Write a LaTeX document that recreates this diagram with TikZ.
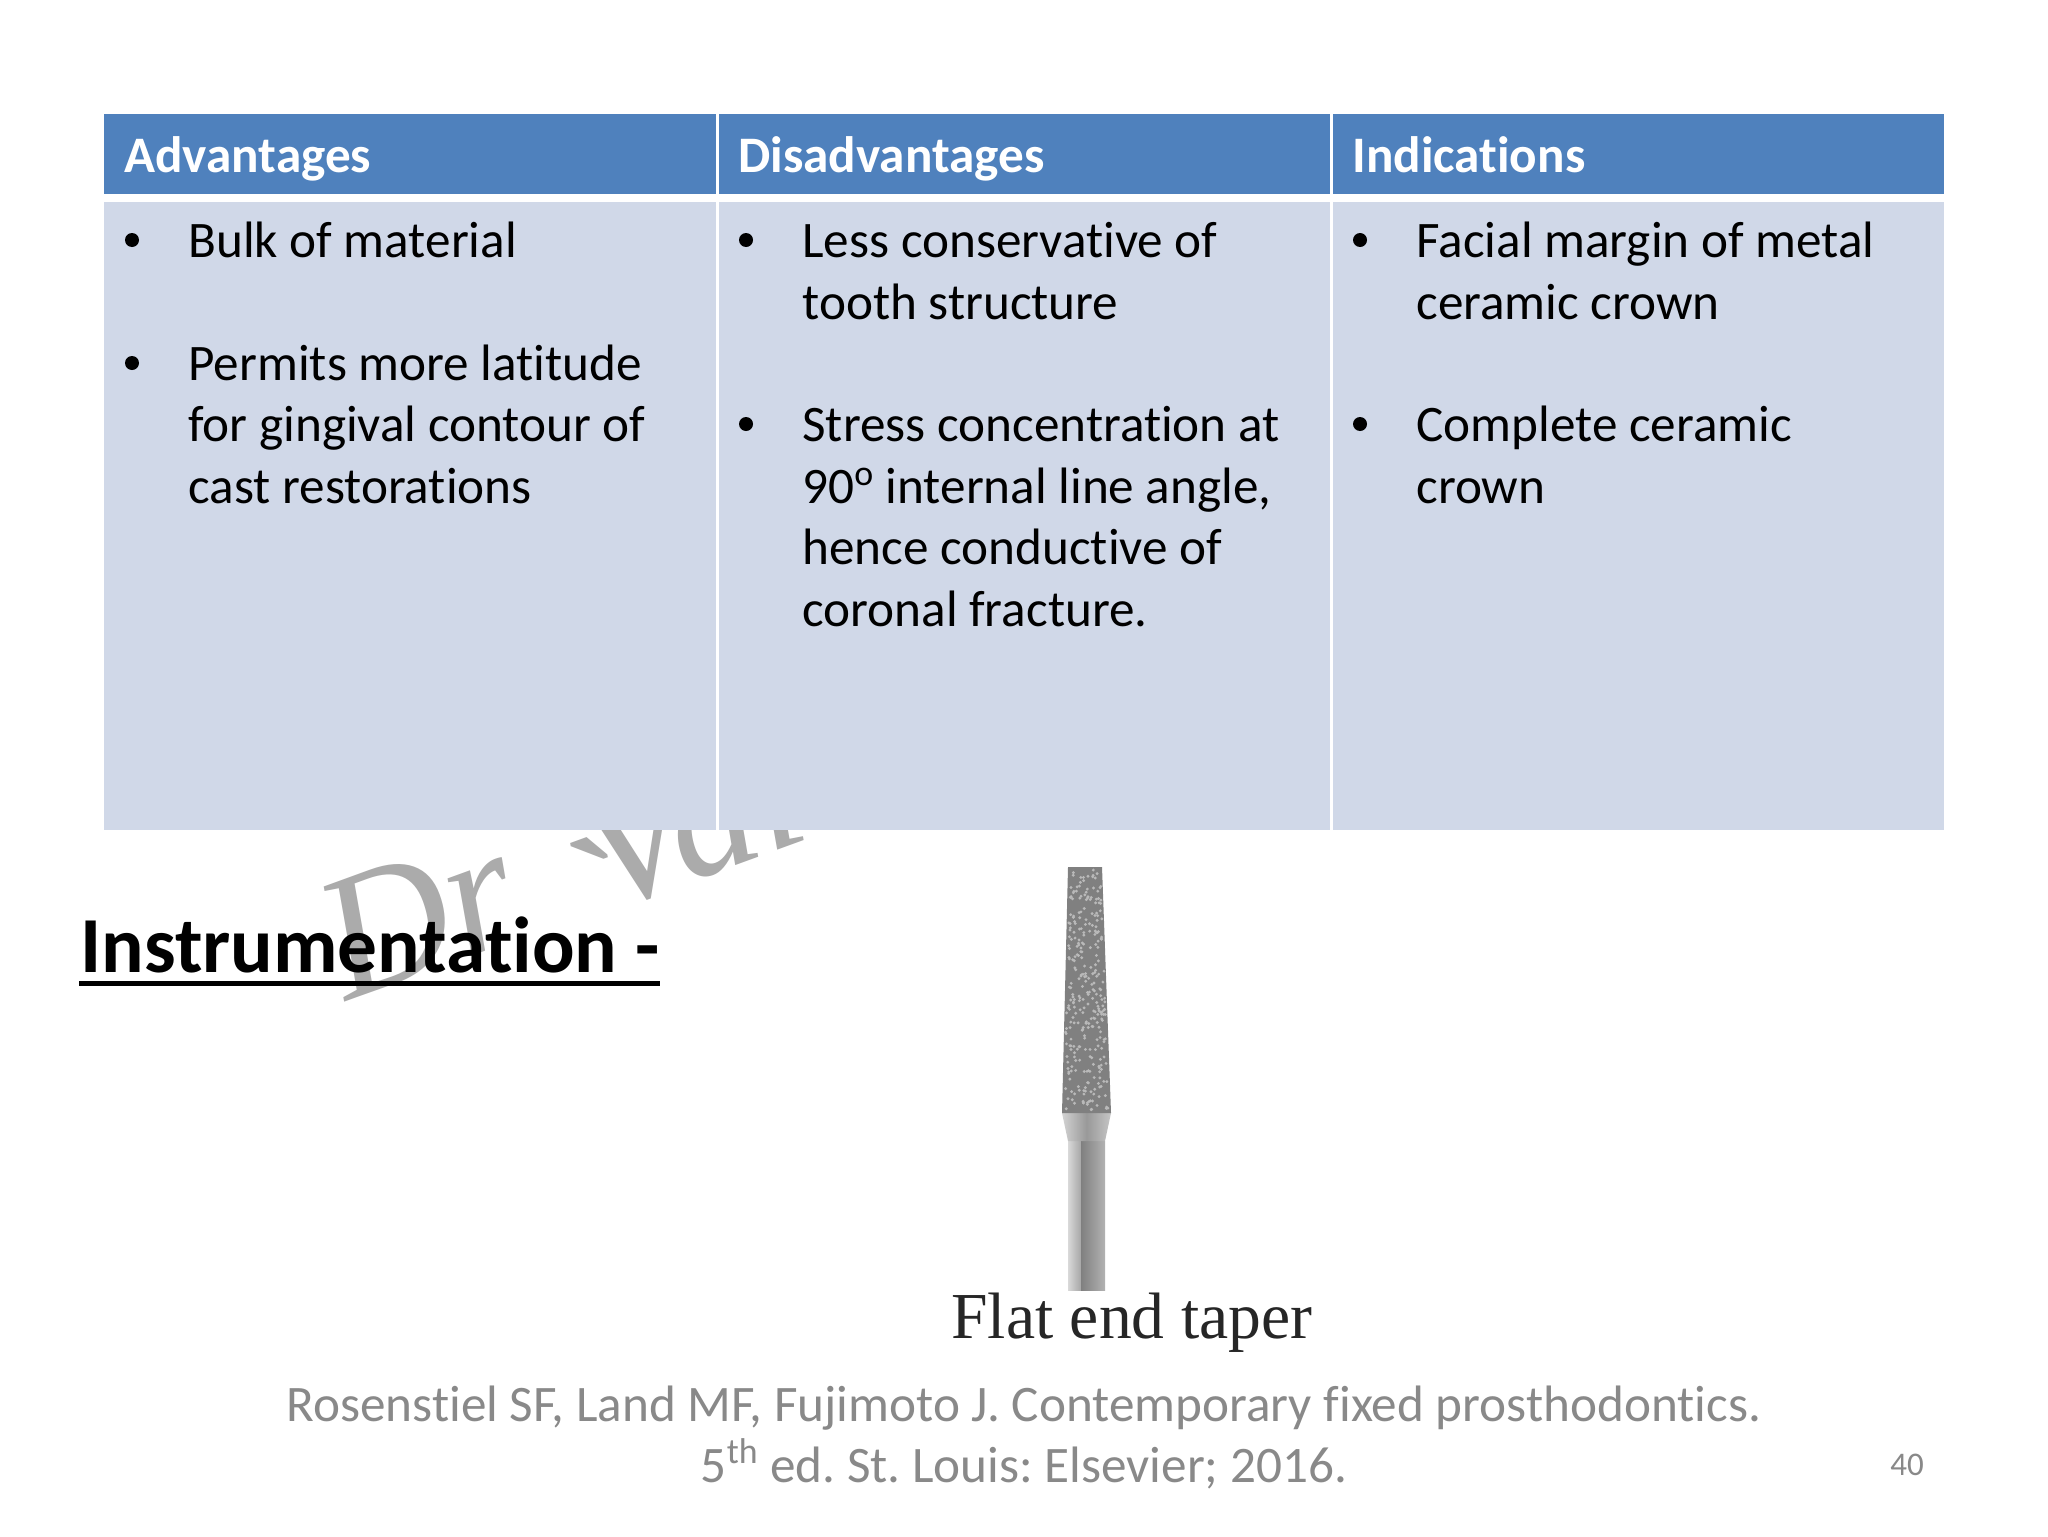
\documentclass[tikz,border=0pt]{standalone}
\usepackage{fontspec}
\setmainfont{Carlito}[Ligatures=NoCommon]
\newfontfamily\capfont{Liberation Serif}
\definecolor{headblue}{HTML}{4F81BD}
\definecolor{bodyblue}{HTML}{D0D8E8}
\definecolor{footgrey}{HTML}{898989}
\definecolor{markgrey}{HTML}{ABABAB}
\frenchspacing
\tikzset{
  headcell/.style={fill=headblue},
  bodycell/.style={fill=bodyblue},
  headtext/.style={anchor=base west,inner sep=0pt,text=white,font=\fontsize{25.6}{30.7}\selectfont\bfseries},
  itemtext/.style={anchor=base west,inner sep=0pt,align=left,font=\fontsize{25.6}{30.7}\selectfont},
  itemdot/.style={circle,fill=black,inner sep=0pt,minimum size=7},
  foottext/.style={inner sep=0pt,text=footgrey,font=\fontsize{25.6}{30.7}\selectfont},
  marktext/.style={anchor=base west,inner sep=0pt,rotate=20,text=markgrey,font=\capfont\itshape\fontsize{88}{88}\selectfont}
}
\begin{document}
\begin{tikzpicture}[x=0.5pt,y=-0.5pt]
\useasboundingbox (0,0) rectangle (2048,1536);
\fill[white] (0,0) rectangle (2048,1536);
% watermark runs under the table
\node[marktext] (markdr) at (346,1002) {Dr};
\node[marktext] (marktick) at (587,968) {`};
\node[marktext] (markname) at (603,914) {Vai};
% table
\fill[white] (104,114) rectangle (1944,830);
\fill[headcell] (104,114) rectangle (716,194);
\fill[headcell] (719,114) rectangle (1330,194);
\fill[headcell] (1333,114) rectangle (1944,194);
\fill[bodycell] (104,202) rectangle (716,830);
\fill[bodycell] (719,202) rectangle (1330,830);
\fill[bodycell] (1333,202) rectangle (1944,830);
\node[headtext] (adv) at (124,172) {Advantages};
\node[headtext] (dis) at (738,172) {Disadvantages};
\node[headtext] (ind) at (1352,172) {Indications};
% first column
\node[itemdot] (d1) at (132,240) {};
\node[itemtext] (a1) at (188,257) {Bulk of material};
\node[itemdot] (d2) at (132,363) {};
\node[itemtext] (a2) at (188,503) {Permits more latitude\\for gingival contour of\\cast restorations};
% second column
\node[itemdot] (d3) at (746,240) {};
\node[itemtext] (b1) at (802,319) {Less conservative of\\tooth structure};
\node[itemdot] (d4) at (746,424) {};
\node[itemtext] (b2) at (802,626) {Stress concentration at\\90\textsuperscript{o} internal line angle,\\hence conductive of\\coronal fracture.};
% third column
\node[itemdot] (d5) at (1360,240) {};
\node[itemtext] (c1) at (1416,319) {Facial margin of metal\\ceramic crown};
\node[itemdot] (d6) at (1360,424) {};
\node[itemtext] (c2) at (1416,503) {Complete ceramic\\crown};
% heading
\node[anchor=base west,inner sep=0pt,font=\fontsize{39.7}{47}\selectfont\bfseries] (instr) at (80,972) {Instrumentation -};
\draw[line width=2.5pt] (79,983) -- (660,983);
% bur
\shade[left color=gray!30,right color=gray!70] (1068,1141) rectangle (1081,1290);
\shade[left color=gray!100,right color=gray!60] (1081,1141) rectangle (1105,1290);
\shade[left color=gray!35,right color=gray!45,middle color=gray!80] (1062,1113) -- (1068,1141) -- (1105,1141) -- (1111,1113) -- cycle;
\fill[gray] (1068,867) -- (1102,867) -- (1111,1113) -- (1062,1113) -- cycle;
\pgfmathsetseed{40}
\foreach \i in {1,...,300}{
  \pgfmathsetmacro{\py}{870+rnd*240}
  \pgfmathsetmacro{\px}{1085.5+(rnd-0.5)*(31+(\py-870)*0.06)}
  \fill[gray!55] (\px,\py) circle (1.6);
}
\node[anchor=base west,inner sep=0pt,text=black!85,font=\capfont\fontsize{32.8}{34}\selectfont] (burname) at (951,1338) {Flat end taper};
% reference
\node[foottext,anchor=base] (ref1) at (1024,1421) {Rosenstiel SF, Land MF, Fujimoto J. Contemporary fixed prosthodontics.};
\node[foottext,anchor=base] (ref2) at (1024,1482) {5\textsuperscript{th} ed. St. Louis: Elsevier; 2016.};
\node[inner sep=0pt,text=footgrey,font=\fontsize{16.5}{20}\selectfont] (pageno) at (1907,1465) {40};
\end{tikzpicture}
\end{document}
